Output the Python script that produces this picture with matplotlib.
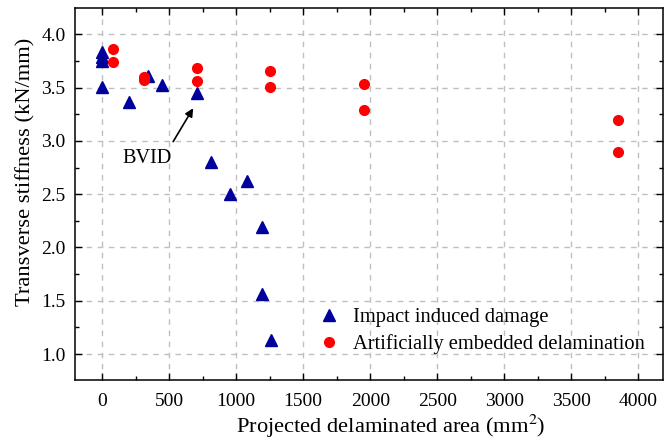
import matplotlib

matplotlib.use("Agg")
import matplotlib.pyplot as plt
from matplotlib.ticker import MultipleLocator, FormatStrFormatter

# Impact induced damage (triangles)
impact_area = [0, 0, 0, 0, 200, 340, 445, 706, 811, 957, 1084, 1196, 1196, 1258]
impact_stiff = [3.83, 3.79, 3.75, 3.51, 3.36, 3.61, 3.52, 3.45, 2.80, 2.50, 2.62, 2.19, 1.56, 1.13]

# Artificially embedded delamination (circles)
embed_area = [78, 78, 312, 312, 706, 706, 1254, 1254, 1957, 1957, 3845, 3845]
embed_stiff = [3.86, 3.74, 3.60, 3.57, 3.68, 3.56, 3.66, 3.51, 3.53, 3.29, 3.20, 2.90]

plt.rcParams["font.family"] = ["Liberation Serif", "DejaVu Serif"]
plt.rcParams["mathtext.fontset"] = "stix"

fig = plt.figure(figsize=(6.71, 4.43), dpi=100)
ax = fig.add_axes([0.1122, 0.1422, 0.8755, 0.8391])

ax.plot(impact_area, impact_stiff, linestyle="none", marker="^", markersize=9,
        color="#00009c", label="Impact induced damage", zorder=3)
ax.plot(embed_area, embed_stiff, linestyle="none", marker="o", markersize=7,
        color="#ff0000", label="Artificially embedded delamination", zorder=3)

ax.set_xlim(-200, 4182)
ax.set_ylim(0.756, 4.244)
ax.xaxis.set_major_locator(MultipleLocator(500))
ax.xaxis.set_minor_locator(MultipleLocator(250))
ax.yaxis.set_major_locator(MultipleLocator(0.5))
ax.yaxis.set_minor_locator(MultipleLocator(0.25))
ax.yaxis.set_major_formatter(FormatStrFormatter("%.1f"))

ax.tick_params(which="both", direction="in", top=True, right=True, labelsize=14, width=1)
ax.tick_params(which="major", length=5)
ax.tick_params(which="minor", length=3)
ax.tick_params(axis="x", pad=9)
ax.tick_params(axis="y", pad=7)
for sp in ax.spines.values():
    sp.set_linewidth(1.1)

ax.grid(True, which="major", color="#c0c0c0", linestyle=(0, (4, 4)), linewidth=1)
ax.set_axisbelow(True)

ax.set_xlabel("Projected delaminated area (mm$^2$)", fontsize=16.2)
ax.set_ylabel("Transverse stiffness (kN/mm)", fontsize=16.2)
# labels sit a little off-centre in the original
ax.xaxis.set_label_coords(0.5375, -0.089)
ax.yaxis.set_label_coords(-0.0686, 0.5596)

# BVID label with arrow pointing to the marked specimen
ax.text(333, 2.83, "BVID", fontsize=14.6, ha="center", va="center")
ax.annotate("", xy=(679, 3.306), xytext=(530, 2.993),
            arrowprops=dict(arrowstyle="-|>", color="black", lw=1.2,
                            mutation_scale=12, shrinkA=0, shrinkB=0))

ax.legend(loc="upper left", bbox_to_anchor=(0.4145, 0.1937), frameon=False,
          fontsize=14.8, handlelength=1.0, handletextpad=0.67, labelspacing=0.32,
          borderaxespad=0, borderpad=0, numpoints=1)

fig.savefig("out.png", dpi=100)
